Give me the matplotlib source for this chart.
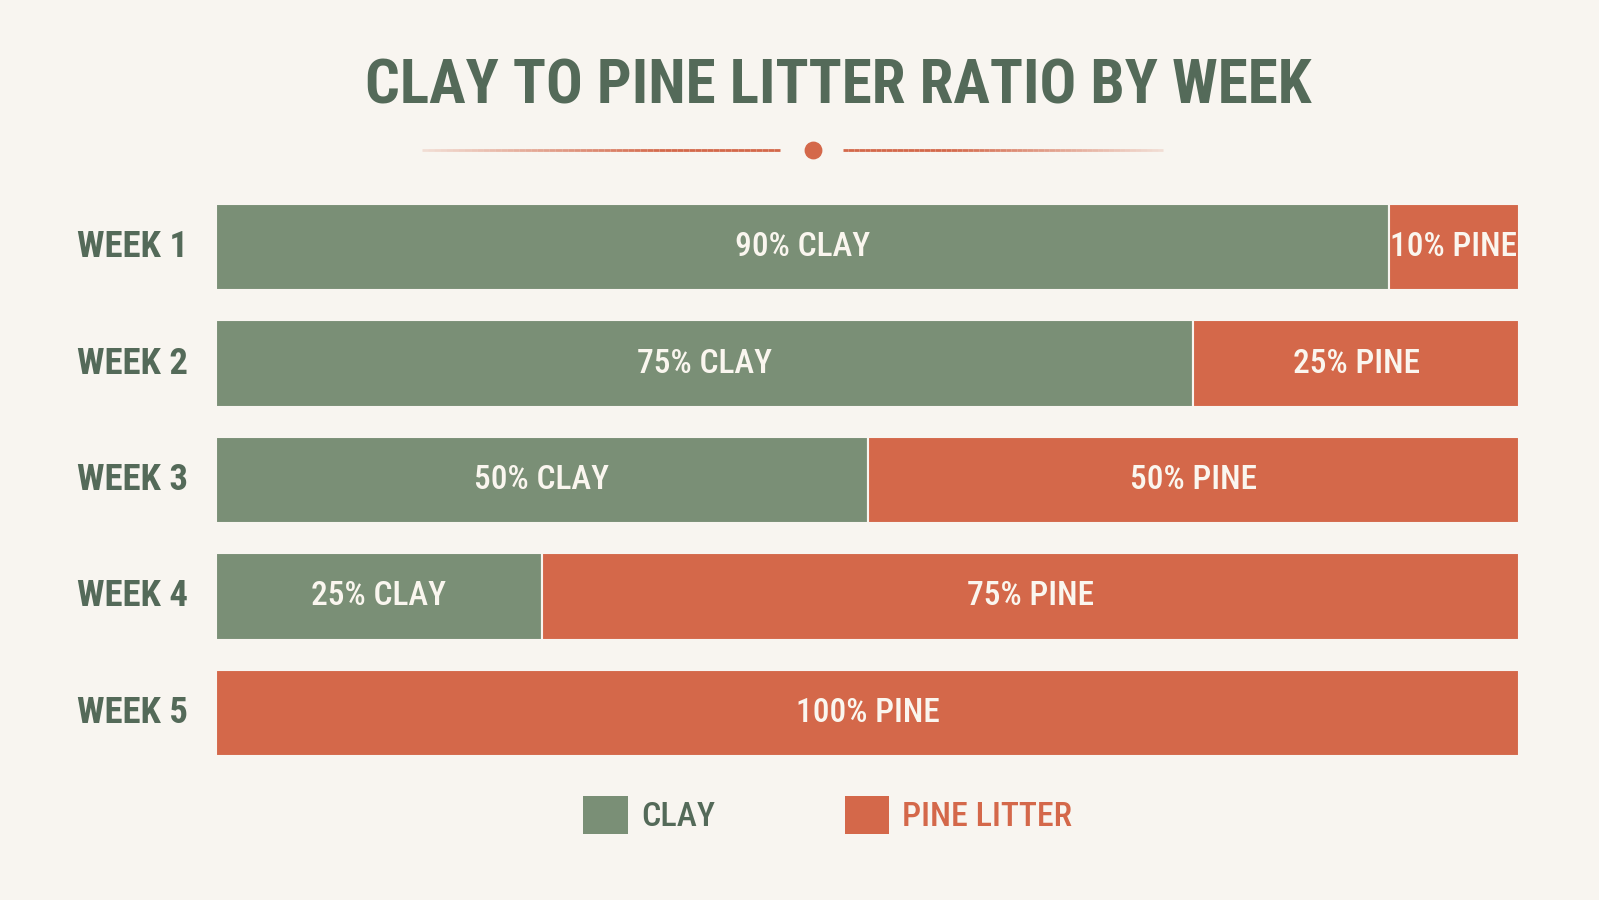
import numpy as np
import matplotlib
matplotlib.use("Agg")
import matplotlib.pyplot as plt
from matplotlib import font_manager
from matplotlib.patches import Patch

weeks = ["WEEK 1", "WEEK 2", "WEEK 3", "WEEK 4", "WEEK 5"]
clay = [90, 75, 50, 25, 0]
pine = [10, 25, 50, 75, 100]

BG = "#f8f5f0"
GREEN = "#7a8f76"
ORANGE = "#d4684a"
DARK = "#546a59"
TEXT_LIGHT = "#faf6ef"

# pick a narrow family if the system has one
names = {f.name for f in font_manager.fontManager.ttflist}
family = "DejaVu Sans"
for cand in ["Roboto Condensed", "Liberation Sans Narrow", "DejaVu Sans Condensed", "Open Sans Condensed", "Roboto"]:
    if cand in names:
        family = cand
        break
plt.rcParams["font.family"] = [family, "DejaVu Sans"]

fig = plt.figure(figsize=(15.99, 9), dpi=100, facecolor=BG)
ax = fig.add_axes([216 / 1599, 144 / 900, 1303 / 1599, 552 / 900])
ax.set_facecolor(BG)

y = np.arange(len(weeks))
ax.barh(y, clay, height=0.74, color=GREEN, edgecolor=BG, linewidth=1.5)
ax.barh(y, pine, left=clay, height=0.74, color=ORANGE, edgecolor=BG, linewidth=1.5)

for i in range(len(weeks)):
    if clay[i] > 0:
        ax.text(clay[i] / 2, i, "{}% CLAY".format(clay[i]), ha="center", va="center",
                color=TEXT_LIGHT, fontsize=24, fontweight="medium")
    if pine[i] > 0:
        ax.text(clay[i] + pine[i] / 2, i, "{}% PINE".format(pine[i]), ha="center", va="center",
                color=TEXT_LIGHT, fontsize=24, fontweight="medium")
    ax.text(-139 / 1303, i, weeks[i], transform=ax.get_yaxis_transform(), ha="left", va="center",
            color=DARK, fontsize=26.5, fontweight="bold")

ax.set_xlim(0, 100)
ax.set_ylim(len(weeks) - 1 + 0.37, -0.37)
ax.axis("off")

fig.text(838 / 1599, 1 - 87 / 900, "CLAY TO PINE LITTER RATIO BY WEEK", ha="center", va="center",
         color=DARK, fontsize=44, fontweight="bold")

# decorative divider under the title
deco = fig.add_axes([0, 0, 1, 1])
deco.set_xlim(0, 1599)
deco.set_ylim(900, 0)
deco.axis("off")
yl = 150
for x0, x1, a0, a1 in [(422, 780, 0.12, 1.0), (843, 1163, 1.0, 0.12)]:
    xs = np.linspace(x0, x1, 60)
    al = np.clip(np.linspace(a0, a1, 59) * 1.4, 0, 1)
    for k in range(59):
        deco.plot(xs[k:k + 2], [yl, yl], color=ORANGE, lw=2, alpha=al[k], solid_capstyle="butt")
deco.scatter([813], [yl], s=140, color=ORANGE, zorder=3)

handles = [Patch(facecolor=GREEN, label="CLAY"), Patch(facecolor=ORANGE, label="PINE LITTER")]
leg = fig.legend(handles=handles, loc="center", bbox_to_anchor=(828 / 1599, 1 - 815 / 900), ncol=2,
                 frameon=False, prop={"size": 24.5, "weight": "medium"}, handlelength=1.3,
                 handleheight=1.3, handletextpad=0.4, columnspacing=3.8)
for t, c in zip(leg.get_texts(), [DARK, ORANGE]):
    t.set_color(c)

fig.savefig("out.png", dpi=100, facecolor=BG)
